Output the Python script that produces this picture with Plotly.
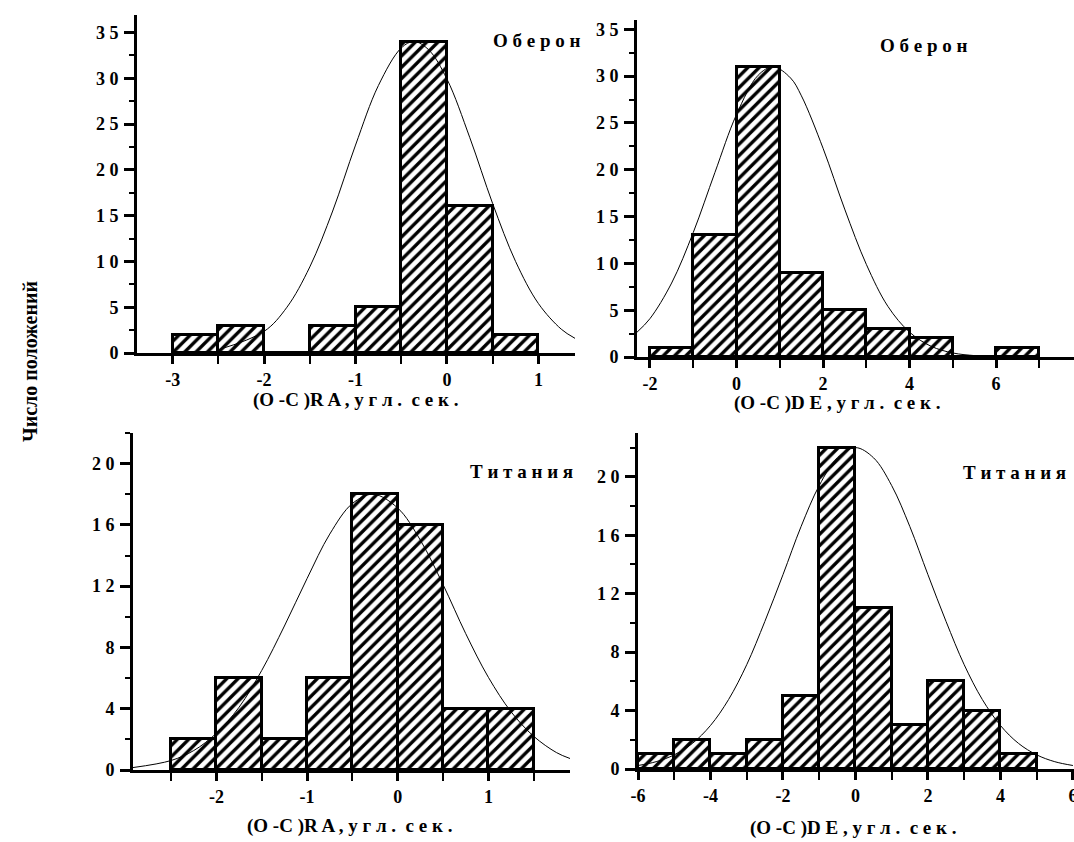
import plotly.graph_objects as go

# ---------------- data ----------------
# Panel 1: Oberon, (O-C) RA, bin width 0.5
ob_ra_left = [-3.0, -2.5, -2.0, -1.5, -1.0, -0.5, 0.0, 0.5]
ob_ra_count = [2, 3, 0, 3, 5, 34, 16, 2]
ob_ra_curve_x = [-2.5, -2.0, -1.75, -1.5, -1.25, -1.0, -0.75, -0.5, -0.36, -0.2, 0.0, 0.25, 0.5, 0.75, 1.0, 1.25, 1.4]
ob_ra_curve_y = [0.36, 2.36, 5.0, 9.4, 15.5, 22.7, 29.2, 33.3, 34.0, 33.1, 29.9, 23.5, 16.3, 10.0, 5.4, 2.6, 1.6]

# Panel 2: Oberon, (O-C) DE, bin width 1
ob_de_left = [-2, -1, 0, 1, 2, 3, 4, 5, 6]
ob_de_count = [1, 13, 31, 9, 5, 3, 2, 0, 1]
ob_de_curve_x = [-2.3, -2.0, -1.5, -1.0, -0.5, 0.0, 0.5, 0.85, 1.25, 1.5, 2.0, 2.5, 3.0, 3.5, 4.0, 4.5, 5.0, 5.5, 5.8]
ob_de_curve_y = [2.65, 4.1, 7.9, 13.3, 19.7, 25.9, 30.1, 31.0, 29.8, 27.9, 22.3, 15.8, 9.9, 5.4, 2.65, 1.14, 0.43, 0.15, 0.07]

# Panel 3: Titania, (O-C) RA, bin width 0.5
ti_ra_left = [-2.5, -2.0, -1.5, -1.0, -0.5, 0.0, 0.5, 1.0]
ti_ra_count = [2, 6, 2, 6, 18, 16, 4, 4]
ti_ra_curve_x = [-2.92, -2.5, -2.25, -2.0, -1.75, -1.5, -1.25, -1.0, -0.75, -0.5, -0.27, 0.0, 0.25, 0.5, 0.75, 1.0, 1.25, 1.5, 1.75, 1.9]
ti_ra_curve_y = [0.16, 0.62, 1.27, 2.4, 4.1, 6.5, 9.4, 12.5, 15.4, 17.4, 18.0, 17.1, 15.0, 12.1, 8.9, 6.05, 3.8, 2.2, 1.14, 0.75]

# Panel 4: Titania, (O-C) DE, bin width 1
ti_de_left = [-6, -5, -4, -3, -2, -1, 0, 1, 2, 3, 4]
ti_de_count = [1, 2, 1, 2, 5, 22, 11, 3, 6, 4, 1]
ti_de_curve_x = [-6.0, -5.5, -5.0, -4.5, -4.0, -3.5, -3.0, -2.5, -2.0, -1.5, -1.0, -0.5, 0.0, 0.5, 1.0, 1.5, 2.0, 2.5, 3.0, 3.5, 4.0, 4.5, 5.0, 5.5, 6.0]
ti_de_curve_y = [0.24, 0.5, 0.97, 1.75, 2.98, 4.76, 7.14, 10.1, 13.3, 16.6, 19.4, 21.3, 22.0, 21.3, 19.4, 16.6, 13.3, 10.1, 7.14, 4.76, 2.98, 1.75, 0.97, 0.5, 0.24]

labels = ["О б е р о н", "О б е р о н", "Т и т а н и я", "Т и т а н и я"]
xtitles = ["(O -C )R A , у г л .  с е к .", "(O -C )D E , у г л .  с е к .",
           "(O -C )R A , у г л .  с е к .", "(O -C )D E , у г л .  с е к ."]
ytitle = "Число положений"

W, H = 1074, 842
FONT = "Liberation Serif"

def px_x(p):
    return p / W

def px_y(p):
    return 1 - p / H

panels = [
    dict(left=ob_ra_left, count=ob_ra_count, bw=0.5, cx=ob_ra_curve_x, cy=ob_ra_curve_y,
         xdom=(137, 575), ydom=(15, 353), xr=(-3.39, 1.4), yr=(0, 36.9),
         xt=[-3, -2, -1, 0, 1], xminor=0.5, yt=[0, 5, 10, 15, 20, 25, 30, 35], yminor=2.5,
         lab=(537, 40), xtit=(355, 400)),
    dict(left=ob_de_left, count=ob_de_count, bw=1, cx=ob_de_curve_x, cy=ob_de_curve_y,
         xdom=(637, 1074), ydom=(20, 357), xr=(-2.3, 7.8), yr=(0, 36.0),
         xt=[-2, 0, 2, 4, 6], xminor=1, yt=[0, 5, 10, 15, 20, 25, 30, 35], yminor=2.5,
         lab=(924, 46), xtit=(837, 403)),
    dict(left=ti_ra_left, count=ti_ra_count, bw=0.5, cx=ti_ra_curve_x, cy=ti_ra_curve_y,
         xdom=(133, 570), ydom=(433, 770), xr=(-2.92, 1.9), yr=(0, 22.0),
         xt=[-2, -1, 0, 1], xminor=0.5, yt=[0, 4, 8, 12, 16, 20], yminor=2,
         lab=(521, 471), xtit=(349, 826)),
    dict(left=ti_de_left, count=ti_de_count, bw=1, cx=ti_de_curve_x, cy=ti_de_curve_y,
         xdom=(638, 1074), ydom=(433, 769), xr=(-6.0, 6.03), yr=(0, 23.0),
         xt=[-6, -4, -2, 0, 2, 4, 6], xminor=1, yt=[0, 4, 8, 12, 16, 20], yminor=2,
         lab=(1014, 472), xtit=(853, 828)),
]

def spaced(v):
    s = str(v)
    return " ".join(list(s)) if not s.startswith("-") else s

fig = go.Figure()
layout = dict(
    width=W, height=H, margin=dict(l=0, r=0, t=0, b=0),
    paper_bgcolor="white", plot_bgcolor="white", showlegend=False,
    barmode="overlay", bargap=0,
    font=dict(family=FONT, color="black"),
    annotations=[],
)

for i, p in enumerate(panels):
    n = "" if i == 0 else str(i + 1)
    xa, ya = "x" + n, "y" + n
    centers = [l + p["bw"] / 2 for l in p["left"]]
    fig.add_trace(go.Bar(
        x=centers, y=p["count"], width=[p["bw"]] * len(centers),
        xaxis=xa, yaxis=ya,
        marker=dict(color="white", line=dict(color="black", width=3),
                    pattern=dict(shape="/", fgcolor="black", bgcolor="white",
                                 size=8, solidity=0.42, fgopacity=1)),
        hoverinfo="skip",
    ))
    fig.add_trace(go.Scatter(
        x=p["cx"], y=p["cy"], mode="lines", xaxis=xa, yaxis=ya,
        line=dict(color="black", width=1, shape="spline"), hoverinfo="skip",
    ))
    layout["xaxis" + n] = dict(
        domain=[px_x(p["xdom"][0]), px_x(p["xdom"][1])], range=list(p["xr"]),
        anchor=ya, showline=True, linecolor="black", linewidth=3,
        showgrid=False, zeroline=False, ticks="outside", ticklen=8, tickwidth=2.5,
        tickcolor="black", tickvals=p["xt"], ticktext=[spaced(v) for v in p["xt"]],
        tickfont=dict(family=FONT, size=18, color="black", weight="bold"),
        ticklabelstandoff=0, ticklabeloverflow="allow",
        minor=dict(ticks="outside", ticklen=8, tickwidth=2, tickcolor="black", dtick=p["xminor"], showgrid=False),
        automargin=False, fixedrange=True,
    )
    layout["yaxis" + n] = dict(
        domain=[px_y(p["ydom"][1]), px_y(p["ydom"][0])], range=list(p["yr"]),
        anchor=xa, showline=True, linecolor="black", linewidth=3,
        showgrid=False, zeroline=False, ticks="outside", ticklen=10, tickwidth=2.5,
        tickcolor="black", tickvals=p["yt"], ticktext=[spaced(v) for v in p["yt"]],
        tickfont=dict(family=FONT, size=18, color="black", weight="bold"),
        ticklabelstandoff=2,
        minor=dict(ticks="outside", ticklen=5, tickwidth=2, tickcolor="black", dtick=p["yminor"], showgrid=False),
        automargin=False, fixedrange=True,
    )
    layout["annotations"].append(dict(
        text=labels[i], x=px_x(p["lab"][0]), y=px_y(p["lab"][1]), xref="paper", yref="paper",
        showarrow=False, xanchor="center", yanchor="middle",
        font=dict(family=FONT, size=19, color="black", weight="bold")))
    layout["annotations"].append(dict(
        text=xtitles[i], x=px_x(p["xtit"][0]), y=px_y(p["xtit"][1]), xref="paper", yref="paper",
        showarrow=False, xanchor="center", yanchor="middle",
        font=dict(family=FONT, size=19, color="black", weight="bold")))

layout["annotations"].append(dict(
    text=ytitle, x=px_x(30), y=px_y(362), xref="paper", yref="paper",
    showarrow=False, textangle=-90, xanchor="center", yanchor="middle",
    font=dict(family=FONT, size=20, color="black", weight="bold")))

fig.update_layout(**layout)
fig.write_html("out.html", config={"displayModeBar": False},
               post_script="document.body.style.margin='0';document.body.style.overflow='hidden';")
